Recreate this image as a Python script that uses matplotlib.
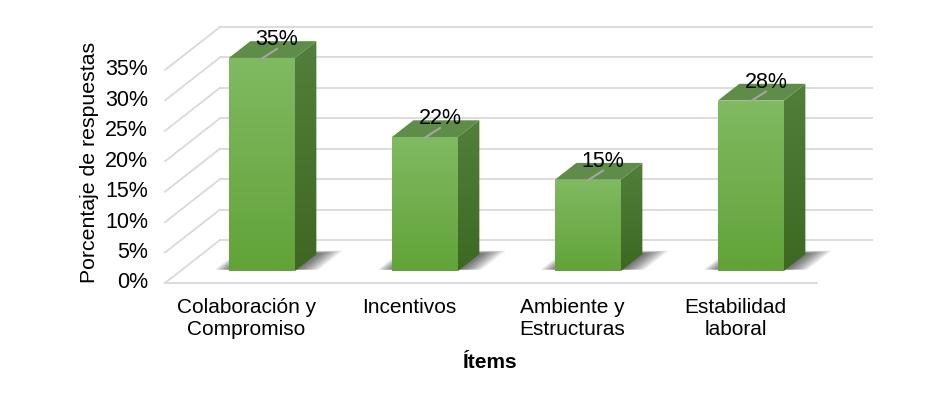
import numpy as np
import matplotlib
matplotlib.use("Agg")
import matplotlib.pyplot as plt
from matplotlib.patches import Polygon

categories = ["Colaboración y\nCompromiso", "Incentivos", "Ambiente y\nEstructuras", "Estabilidad\nlaboral"]
values = [35, 22, 15, 28]
value_labels = ["35%", "22%", "15%", "28%"]
ticks = [0, 5, 10, 15, 20, 25, 30, 35]
tick_labels = ["0%", "5%", "10%", "15%", "20%", "25%", "30%", "35%"]
y_title = "Porcentaje de respuestas"
x_title = "Ítems"

plt.rcParams['font.family'] = ['Liberation Sans', 'DejaVu Sans']

W, H = 945, 403
fig = plt.figure(figsize=(W / 100, H / 100), dpi=100)
ax = fig.add_axes([0, 0, 1, 1])

# pixel layout of the plot floor
px0, py0 = 165.0, 283.0      # front-left corner of floor (0%)
cat_px = 163.0               # pixels per category
val_px = 6.086               # pixels per percent
n = len(categories)
ax.set_xlim(-px0 / cat_px, (W - px0) / cat_px)
ax.set_ylim((py0 - H) / val_px, py0 / val_px)
ax.axis("off")

DX = 55.0 / cat_px   # depth offset in category units
DY = 43.0 / val_px   # depth offset in value units

def P(x, v, d):
    return (x + DX * d, v + DY * d)

grid_c = "#d9d9d9"
lw = 1.3
for t in ticks:
    a, b = P(0, t, 1), P(n, t, 1)
    ax.plot([a[0], b[0]], [a[1], b[1]], color=grid_c, lw=lw, zorder=1)
    c = P(0, t, 0)
    ax.plot([c[0], a[0]], [c[1], a[1]], color=grid_c, lw=lw, zorder=1)
ax.plot([0, n], [0, 0], color=grid_c, lw=lw, zorder=1)

d0, d1 = 0.28, 0.67
bw = 0.405

front_top = np.array([0x80, 0xba, 0x62]) / 255
front_bot = np.array([0x62, 0xa3, 0x38]) / 255
side_top = np.array([0x52, 0x80, 0x3a]) / 255
side_bot = np.array([0x3c, 0x68, 0x22]) / 255
top_c = "#5f8c48"

def grad_fill(poly_pts, ctop, cbot, z):
    poly = Polygon(poly_pts, closed=True, facecolor="none", edgecolor="none", zorder=z)
    ax.add_patch(poly)
    xs = [p[0] for p in poly_pts]
    ys = [p[1] for p in poly_pts]
    N = 100
    t = np.linspace(0, 1, N)[:, None]
    img = ctop[None, :] * (1 - t) + cbot[None, :] * t
    img = img[:, None, :]
    im = ax.imshow(img, extent=[min(xs), max(xs), min(ys), max(ys)], origin="upper",
                   aspect="auto", zorder=z, interpolation="bilinear")
    im.set_clip_path(poly)

px = 1.0 / cat_px
for i, v in enumerate(values):
    xc = i + 0.5
    x0, x1 = xc - bw / 2, xc + bw / 2
    # soft shadow on the floor
    L = 12
    for k in range(L):
        f = (L - k) / L
        sx0 = x0 - 16 * px * f
        sx1 = x1 + 22 * px * f
        sd0 = d0 + 0.03
        sd1 = d1 + 0.02 + 0.06 * f
        pts = [P(sx0, 0, sd0), P(sx1, 0, sd0), P(sx1, 0, sd1), P(sx0, 0, sd1)]
        ax.add_patch(Polygon(pts, closed=True, facecolor="black", edgecolor="none",
                             alpha=0.06, zorder=2))
    side = [P(x1, 0, d0), P(x1, v, d0), P(x1, v, d1), P(x1, 0, d1)]
    grad_fill(side, side_top, side_bot, 3)
    top = [P(x0, v, d0), P(x1, v, d0), P(x1, v, d1), P(x0, v, d1)]
    ax.add_patch(Polygon(top, closed=True, facecolor=top_c, edgecolor="none", zorder=3))
    front = [P(x0, 0, d0), P(x1, 0, d0), P(x1, v, d0), P(x0, v, d0)]
    grad_fill(front, front_top, front_bot, 4)
    lx, ly = P(xc, v, d0)
    ax.plot([lx, lx + 15 * px], [ly - 0.1, ly + 9 / val_px], color="#a6a6a6", lw=1.5, zorder=5)
    ax.text(lx + 15 * px, ly + 8 / val_px, value_labels[i], ha="center", va="bottom",
            fontsize=15.5, color="black", zorder=6)

for t, lab in zip(ticks, tick_labels):
    ax.text(-17 * px, t, lab, ha="right", va="center", fontsize=15.5, color="black")

for i, c in enumerate(categories):
    ax.text(i + 0.5, -15 / val_px, c, ha="center", va="top", fontsize=15,
            color="black", linespacing=1.2)

ax.text((490 - px0) / cat_px, (py0 - 363) / val_px, x_title, ha="center", va="center",
        fontsize=15, fontweight="bold")
ax.text((90 - px0) / cat_px, (py0 - 162) / val_px, y_title, ha="center", va="center",
        rotation=90, fontsize=15.3)

fig.savefig("out.png", dpi=100)
